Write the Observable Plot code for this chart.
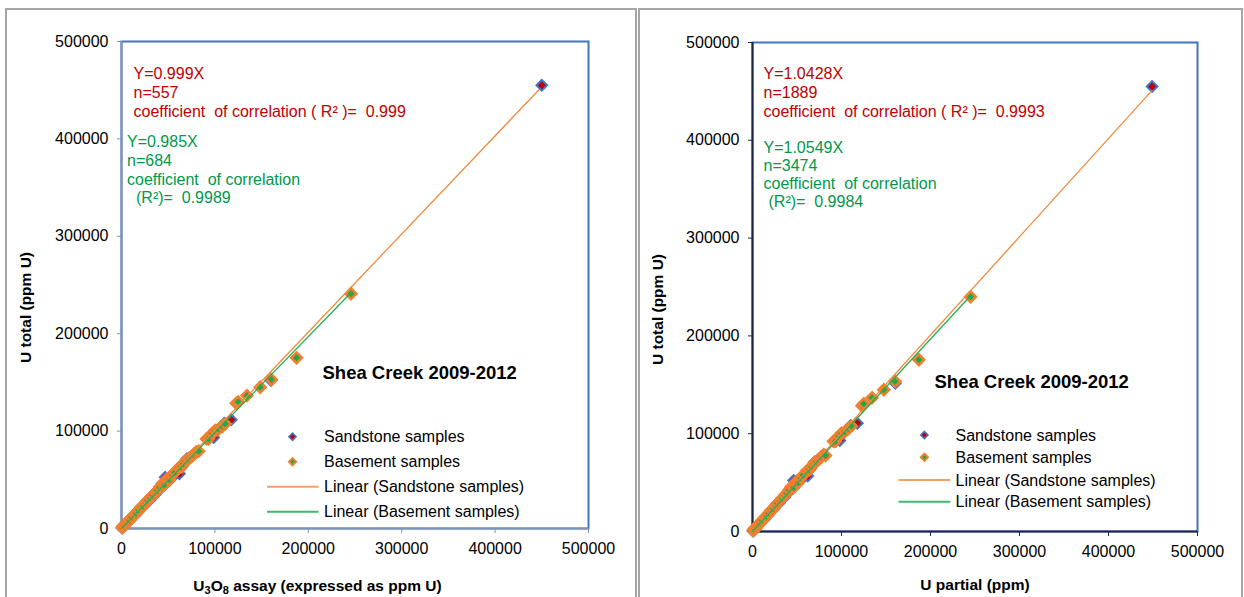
<!DOCTYPE html>
<html><head><meta charset="utf-8">
<script src="https://cdn.jsdelivr.net/npm/d3@7"></script>
<script src="https://cdn.jsdelivr.net/npm/@observablehq/plot@0.6"></script>
<style>
html,body{margin:0;padding:0;background:#fff;width:1244px;height:597px;overflow:hidden;position:relative;font-family:"Liberation Sans",Arial,sans-serif}
.panel{position:absolute;box-sizing:border-box;border:2px solid #a5a5a5;border-bottom:none;pointer-events:none;z-index:2}
.chart{position:absolute;top:0}
</style></head><body>
<div id="left" class="chart" style="left:0"></div>
<div id="right" class="chart" style="left:637px"></div>
<div class="panel" style="left:5px;top:8px;width:632px;height:600px"></div>
<div class="panel" style="left:638px;top:8px;width:605px;height:600px"></div>
<script>
// ---------- tick labels ----------
const xTicks = [0, 100000, 200000, 300000, 400000, 500000];
const yTicks = [0, 100000, 200000, 300000, 400000, 500000];

// ---------- left chart (U3O8 assay vs U total) ----------
const leftSandstone = [
  [500,600],[1500,1200],[3000,3400],[5000,4700],[7000,7300],[9000,8600],[11000,11400],[13000,12500],
  [15000,15600],[18000,17400],[21000,21800],[24000,23200],[27000,27900],[30000,29000],[33000,33800],
  [36000,35000],[39000,39500],[42000,41000],[44000,45500],[46800,52700],[50000,48500],[53000,53800],
  [56500,54400],[58800,59500],[62000,56100],[65000,64000],[70000,71500],[74000,73000],[80000,78000],
  [98700,93400],[102000,100500],[110000,108000],[117500,111600],[160000,152000],[450000,455000]
];
const leftBasement = [
  [800,1000],[1400,2400],[3500,3000],[5000,5600],[6800,7500],[9000,8500],[11000,11600],[13900,14400],
  [16000,15500],[18500,19000],[21000,22000],[23500,23000],[26000,26500],[28000,29000],[31000,31500],
  [33500,34000],[36300,37000],[38500,39000],[41000,42500],[43500,45900],[46000,44800],[48800,51000],
  [51500,50000],[54200,55100],[57000,57500],[61200,62300],[64000,63000],[66600,66400],[69000,70000],
  [71900,71600],[75000,74000],[77200,76000],[80000,78500],[82600,79400],[91000,92000],[93300,92100],
  [97000,97500],[100400,100600],[104000,102000],[108000,105000],[111000,107500],[122900,128600],
  [125000,130000],[134300,136500],[148500,145000],[160400,153000],[187400,175200],[245700,241000]
];
const leftSandTrend = [[0,0],[447000,450500]];
const leftBaseTrend = [[0,0],[245700,242000]];
const leftSandText = ["Y=0.999X", "n=557", "coefficient  of correlation ( R\u00b2 )=  0.999"];
const leftBaseText = ["Y=0.985X", "n=684", "coefficient  of correlation", "(R\u00b2)=  0.9989"];

// ---------- right chart (U partial vs U total) ----------
const rightSandstone = [
  [500,500],[1500,1300],[3000,3300],[5000,4800],[7000,7200],[9000,8700],[11000,11300],[13000,12600],
  [15000,15500],[18000,17500],[21000,21700],[24000,23300],[27000,27800],[30000,29200],[33000,33700],
  [36000,35100],[39000,39400],[42000,41200],[44000,45300],[46200,52100],[50000,48700],[53000,53600],
  [56500,54600],[59000,59300],[62000,56800],[65000,64200],[70000,71300],[74000,73200],[80000,78200],
  [98100,93000],[102000,100800],[110000,108200],[117800,110700],[160500,151500],[449000,455000]
];
const rightBasement = [
  [800,900],[1400,2300],[3500,3100],[5000,5500],[6800,7400],[9000,8600],[11000,11500],[13900,14300],
  [16000,15600],[18500,18900],[21000,21900],[23500,23100],[26000,26400],[28000,28900],[31000,31600],
  [33500,33900],[36300,36900],[38500,39100],[41000,42400],[43500,45700],[46000,44900],[48800,50800],
  [51500,50100],[54200,55000],[57000,57600],[61200,62200],[64000,63100],[66600,66500],[69000,69900],
  [71900,71700],[75000,74100],[77200,76200],[80000,78600],[82000,77700],[91000,92200],[93300,92300],
  [97000,97600],[100000,100500],[104000,102200],[108000,105300],[111000,108000],[123000,128500],
  [125000,130500],[134300,136700],[147600,144900],[160200,153400],[187000,175600],[245000,240000]
];
const rightSandTrend = [[0,0],[449000,451000]];
const rightBaseTrend = [[0,0],[245000,241000]];
const rightSandText = ["Y=1.0428X", "n=1889", "coefficient  of correlation ( R\u00b2 )=  0.9993"];
const rightBaseText = ["Y=1.0549X", "n=3474", "coefficient  of correlation", "(R\u00b2)=  0.9984"];

const titleText = "Shea Creek 2009-2012";
const yTitle = "U total (ppm U)";
// left x title: pieces, subscript flags
const leftXTitleParts = [["U", false], ["3", true], ["O", false], ["8", true], [" assay (expressed as ppm U)", false]];
const rightXTitle = "U partial (ppm)";
const legendLabels = ["Sandstone samples", "Basement samples", "Linear (Sandstone samples)", "Linear (Basement samples)"];

// ---------- styles ----------
const RED = "#C00000", GREEN = "#00994C";
const SAND_FILL = "#C00000", SAND_STROKE = "#4472C4";
const BASE_FILL = "#1FA84A", BASE_STROKE = "#F07F2E";
const TREND_SAND = "#F08A3C", TREND_BASE = "#25AE55";
const FONT = "'Liberation Sans', Arial, sans-serif";

function txt(s, dx, dy, fill, extra = {}) {
  return Plot.text([s], {text: d => d, frameAnchor: "top-left", dx, dy, textAnchor: "start",
    lineAnchor: "middle", fill, fontSize: 16, ...extra});
}

function chart(cfg) {
  const m = cfg.margin;
  const xTitleString = typeof cfg.xTitle === "string" ? cfg.xTitle : cfg.xTitle.map(p => p[0]).join("");
  const marks = [
    Plot.frame({stroke: "#4472C4", strokeWidth: 2}),
    Plot.ruleX([0], {stroke: cfg.axisColor, strokeWidth: 2}),
    Plot.ruleY([0], {stroke: cfg.axisColor, strokeWidth: 2}),
    Plot.axisX({ticks: xTicks, tickSize: 5, tickPadding: 9, stroke: cfg.axisColor, fill: "#000",
      tickFormat: d3.format("d"), label: null, fontSize: 16}),
    Plot.axisY({ticks: yTicks, tickSize: 4, tickPadding: 9, stroke: cfg.axisColor, fill: "#000",
      tickFormat: d3.format("d"), label: null, fontSize: 16}),
    Plot.dot(cfg.sand, {x: d => d[0], y: d => d[1], symbol: "diamond2", r: 4.8,
      fill: SAND_FILL, stroke: SAND_STROKE, strokeWidth: 2}),
    Plot.dot(cfg.base, {x: d => d[0], y: d => d[1], symbol: "diamond2", r: 4.8,
      fill: BASE_FILL, stroke: BASE_STROKE, strokeWidth: 2.6}),
    Plot.line(cfg.sandTrend, {x: d => d[0], y: d => d[1], stroke: TREND_SAND, strokeWidth: 1.3}),
    Plot.line(cfg.baseTrend, {x: d => d[0], y: d => d[1], stroke: TREND_BASE, strokeWidth: 1.3}),
    // annotation blocks
    ...cfg.sandText.map((s, i) => txt(s.replace(/ /g, "\u00a0"), cfg.sandDx, cfg.sandDy[i], RED)),
    ...cfg.baseText.map((s, i) => txt(s.replace(/ /g, "\u00a0"), i === 3 ? cfg.baseDx3 : cfg.baseDx, cfg.baseDy[i], GREEN)),
    txt(titleText, cfg.titleDx, cfg.titleDy, "#000", {fontWeight: "bold", fontSize: 18.5}),
    txt(yTitle, cfg.yTitleDx, cfg.yTitleDy, "#000", {fontWeight: "bold", fontSize: 15.5, rotate: -90, textAnchor: "middle"}),
    txt(xTitleString, cfg.xTitleDx, cfg.xTitleDy, "#000", {fontWeight: "bold", fontSize: 15.5, textAnchor: "middle", className: "xtitle"})
  ];
  const svg = Plot.plot({
    width: cfg.width, height: 597,
    marginTop: m[0], marginRight: m[1], marginBottom: m[2], marginLeft: m[3],
    x: {domain: [0, 500000], nice: false, label: null},
    y: {domain: [0, 500000], nice: false, label: null},
    style: {fontFamily: FONT, fontSize: "16px", background: "transparent", overflow: "visible", color: "#000"},
    marks
  });
  // subscripts in the x title
  if (typeof cfg.xTitle !== "string") {
    const t = d3.select(svg).select("g.xtitle text");
    if (!t.empty()) {
      t.text(null);
      cfg.xTitle.forEach(([s, sub]) => {
        t.append("tspan").attr("font-size", sub ? 11 : null).attr("dy", null)
          .style("baseline-shift", sub ? "-25%" : null)
          .text(s.replace(/ /g, "\u00a0"));
      });
    }
  }
  // legend drawn inside the chart
  const g = d3.select(svg).append("g").attr("font-family", FONT).attr("font-size", 16).attr("text-anchor", "start");
  const L = cfg.legend;
  const sym = d3.symbol(d3.symbolDiamond2, Math.PI * 3.2 * 3.2);
  [[SAND_FILL, SAND_STROKE, 1.6], [BASE_FILL, BASE_STROKE, 2]].forEach(([f, s, w], i) => {
    g.append("path").attr("d", sym()).attr("transform", `translate(${L.markX},${L.ys[i]})`)
      .attr("fill", f).attr("stroke", s).attr("stroke-width", w);
  });
  [TREND_SAND, TREND_BASE].forEach((c, i) => {
    g.append("line").attr("x1", L.lineX1).attr("x2", L.lineX2).attr("y1", L.ys[i + 2]).attr("y2", L.ys[i + 2])
      .attr("stroke", i === 0 ? "#F4A060" : "#3DBA6A").attr("stroke-width", 2);
  });
  legendLabels.forEach((s, i) => {
    g.append("text").attr("x", L.textX).attr("y", L.ys[i]).attr("dy", "0.35em")
      .attr("text-anchor", "start").attr("fill", "#000").text(s);
  });
  return svg;
}

document.getElementById("left").appendChild(chart({
  width: 637, margin: [41, 49, 69, 121], axisColor: "#8294B3",
  sand: leftSandstone, base: leftBasement, sandTrend: leftSandTrend, baseTrend: leftBaseTrend,
  sandText: leftSandText, baseText: leftBaseText,
  sandDx: 12, sandDy: [32.5, 51.5, 70.5], baseDx: 5.5, baseDx3: 14.5, baseDy: [100.5, 119.5, 138, 156],
  titleDx: 201, titleDy: 332, yTitleDx: -95, yTitleDy: 266, xTitle: leftXTitleParts, xTitleDx: 196, xTitleDy: 545,
  legend: {markX: 292.5, textX: 324, lineX1: 267, lineX2: 318.5, ys: [436.7, 461.7, 486.7, 511.7]}
}));
document.getElementById("right").appendChild(chart({
  width: 607, margin: [42, 47, 66, 115], axisColor: "#1E2844",
  sand: rightSandstone, base: rightBasement, sandTrend: rightSandTrend, baseTrend: rightBaseTrend,
  sandText: rightSandText, baseText: rightBaseText,
  sandDx: 11, sandDy: [31.5, 50, 69], baseDx: 11, baseDx3: 16, baseDy: [105, 123, 141, 159],
  titleDx: 182, titleDy: 340, yTitleDx: -94, yTitleDy: 267, xTitle: rightXTitle, xTitleDx: 222.5, xTitleDy: 543,
  legend: {markX: 924.4 - 637, textX: 955.5 - 637, lineX1: 898.5 - 637, lineX2: 950.3 - 637, ys: [435, 457.3, 480, 501.7]}
}));
</script>
</body></html>
